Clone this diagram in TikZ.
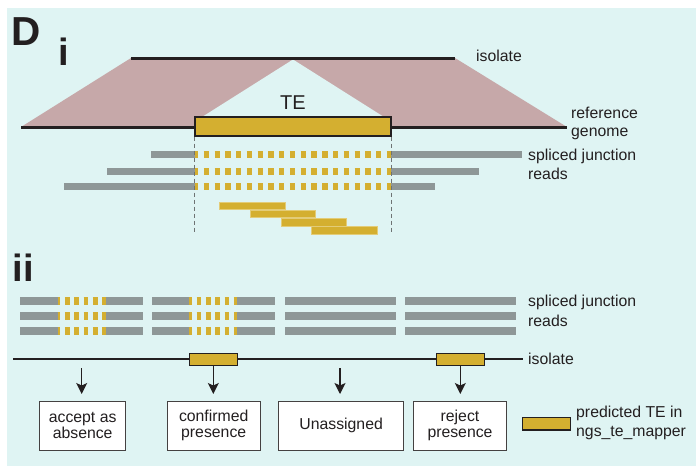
\documentclass[tikz,border=0pt]{standalone}
\usepackage{fontspec}
\setmainfont{Liberation Sans}
\usetikzlibrary{arrows.meta}
\definecolor{bgc}{HTML}{DFF4F3}
\definecolor{pinkc}{HTML}{C6A8A9}
\definecolor{yelc}{HTML}{D4AF30}
\definecolor{yell}{HTML}{E3CC78}
\definecolor{grayc}{HTML}{8E9797}
\definecolor{txtc}{HTML}{231F20}
\definecolor{vdash}{HTML}{6E7373}
\begin{document}
\begin{tikzpicture}[x=1pt,y=-1pt,
 lbl/.style={anchor=base west,inner sep=0pt,text=txtc,font=\fontsize{15.8}{19}\selectfont},
 bigl/.style={anchor=base west,inner sep=0pt,text=txtc,font=\fontsize{40.5}{40}\selectfont\bfseries},
 thickline/.style={line width=3pt,draw=txtc},
 readbar/.style={fill=grayc},
 ybar/.style={fill=yelc,draw=yell,line width=0.6pt},
 yreadA/.style={draw=yelc,line width=7.4pt,dash pattern=on 5.3pt off 5.47pt,dash phase=2pt},
 yreadB/.style={draw=yelc,line width=7.4pt,dash pattern=on 4.7pt off 4.63pt,dash phase=2.1pt},
 tebox/.style={draw=txtc,line width=1.2pt,fill=yelc,inner sep=0pt},
 vd/.style={draw=vdash,line width=0.8pt,dash pattern=on 4pt off 3pt},
 outbox/.style={draw=txtc!85,line width=1.1pt,fill=white,inner sep=0pt,align=center,text=txtc,font=\fontsize{15.8}{16}\selectfont},
 arr/.style={-{Stealth[length=11pt,width=11pt,inset=2.5pt]},line width=1.3pt,draw=txtc,shorten >=7pt}
]
\useasboundingbox (0,0) rectangle (697,466);
\fill[white] (0,0) rectangle (697,466);
\fill[bgc] (7,8) rectangle (696,466);

% ---------- part i ----------
\node[bigl] (D) at (11.5,45.7) {D};
\node[bigl,font=\fontsize{38}{38}\selectfont\bfseries] (pi) at (58.6,65.7) {i};

\coordinate (isoL) at (131,58);
\coordinate (isoR) at (455,58);
\coordinate (refL) at (21,127);
\coordinate (refR) at (567,127);
\fill[pinkc] (isoL) -- (isoR) -- (refR) -- (refL) -- cycle;
\fill[bgc] (293,59.5) -- (202,117) -- (384,117) -- cycle;
\draw[thickline] (isoL) -- (isoR);
\draw[thickline] (refL) -- (refR);
\node[tebox,minimum width=196pt,minimum height=19pt] (te) at (293,126.5) {};
\node[anchor=base,inner sep=0pt,text=txtc,font=\fontsize{20}{20}\selectfont] (telbl) at (293,109.3) {TE};

\node[lbl] (isolbl) at (476,61.5) {isolate};
\node[lbl] (ref1) at (571,118) {reference};
\node[lbl] (ref2) at (571,136.5) {genome};
\node[lbl] (sj1) at (528,160) {spliced junction};
\node[lbl] (sj2) at (528,179.5) {reads};

% reads
\fill[readbar] (151,150.8) rectangle (195,158.2);
\fill[readbar] (391,150.8) rectangle (522,158.2);
\fill[readbar] (107,167.5) rectangle (195,174.9);
\fill[readbar] (391,167.5) rectangle (479,174.9);
\fill[readbar] (64,182.5) rectangle (195,189.9);
\fill[readbar] (391,182.5) rectangle (435,189.9);
\draw[yreadA] (195,154.5) -- (391,154.5);
\draw[yreadA] (195,171.2) -- (391,171.2);
\draw[yreadA] (195,186.2) -- (391,186.2);

\coordinate (vdend) at (0,233);
\draw[vd] (te.south west) -- (te.south west |- vdend);
\draw[vd] (te.south east) -- (te.south east |- vdend);

\fill[ybar] (219,202) rectangle (285,209.7);
\fill[ybar] (250,210) rectangle (315.7,217.7);
\fill[ybar] (281,218.3) rectangle (346.7,226);
\fill[ybar] (311.7,226.7) rectangle (377.3,234.3);

% ---------- part ii ----------
\node[bigl,font=\fontsize{38}{38}\selectfont\bfseries] (pii) at (12.6,281) {ii};

\foreach \y in {301,316,331}{
  \fill[readbar] (20,\y-3.7) rectangle (57.7,\y+3.7);
  \fill[readbar] (105.7,\y-3.7) rectangle (143,\y+3.7);
  \fill[readbar] (151.7,\y-3.7) rectangle (189.3,\y+3.7);
  \fill[readbar] (237.3,\y-3.7) rectangle (275,\y+3.7);
  \fill[readbar] (285,\y-3.7) rectangle (395.7,\y+3.7);
  \fill[readbar] (405,\y-3.7) rectangle (515.7,\y+3.7);
  \draw[yreadB] (57.7,\y) -- (105.7,\y);
  \draw[yreadB] (189.3,\y) -- (237.3,\y);
}
\node[lbl] (sj3) at (528,306.5) {spliced junction};
\node[lbl] (sj4) at (528,326) {reads};

\coordinate (iso2L) at (13.3,359);
\coordinate (iso2R) at (523.3,359);
\draw[line width=1.3pt,txtc] (iso2L) -- (iso2R);
\node[tebox,minimum width=48pt,minimum height=12.4pt] (te2) at (213.3,359.5) {};
\node[tebox,minimum width=48pt,minimum height=12.4pt] (te3) at (460.3,359.5) {};
\node[lbl] (iso2lbl) at (528,364) {isolate};

\node[outbox,minimum width=85.6pt,minimum height=48.6pt] (b1) at (82.65,425.85) {accept as\\absence};
\node[outbox,minimum width=92.9pt,minimum height=48.6pt] (b2) at (213.7,425.85) {confirmed\\presence};
\node[outbox,minimum width=124.6pt,minimum height=48.6pt] (b3) at (341.15,425.85) {\raisebox{-1.5pt}{Unassigned}};
\node[outbox,minimum width=92.3pt,minimum height=48.6pt] (b4) at (460,425.85) {reject\\presence};

\coordinate (a1) at (81.7,368);
\coordinate (a3) at (340,368);
\draw[arr] (a1) -- (a1 |- b1.north);
\draw[arr] (te2.south) -- (te2.south |- b2.north);
\draw[arr] (a3) -- (a3 |- b3.north);
\draw[arr] (te3.south) -- (te3.south |- b4.north);

\node[tebox,minimum width=48pt,minimum height=12.3pt] (leg) at (546.3,423.85) {};
\node[lbl] (leg1) at (576,417) {predicted TE in};
\node[lbl] (leg2) at (576,436) {ngs\_te\_mapper};
\end{tikzpicture}
\end{document}
